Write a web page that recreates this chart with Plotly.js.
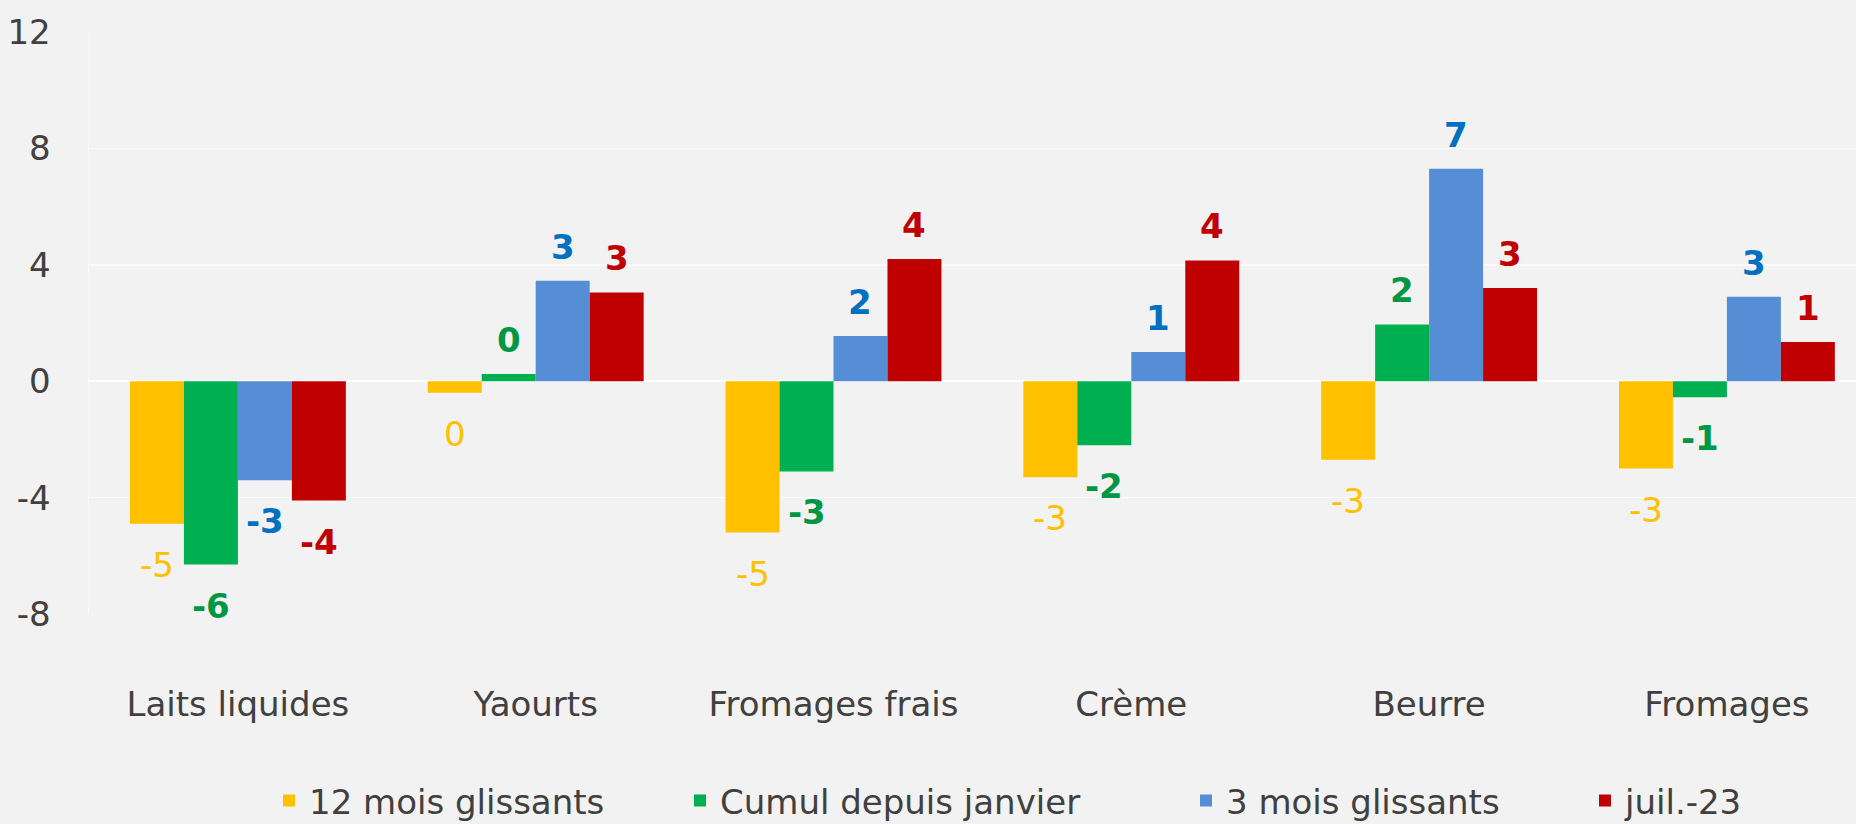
<!DOCTYPE html>
<html>
<head>
<meta charset="utf-8">
<script src="https://cdn.plot.ly/plotly-3.0.1.min.js"></script>
<style>
html,body{margin:0;padding:0;background:#F2F2F2;overflow:hidden;}
#chart{width:1856px;height:824px;}
</style>
</head>
<body>
<div id="chart"></div>
<script>
// ---- data ----
const categories = ["Laits liquides", "Yaourts", "Fromages frais", "Crème", "Beurre", "Fromages"];
const seriesNames = ["12 mois glissants", "Cumul depuis janvier", "3 mois glissants", "juil.-23"];
const v12mois = [-4.9, -0.4, -5.2, -3.3, -2.7, -3.0];
const vCumul = [-6.3, 0.25, -3.1, -2.2, 1.95, -0.55];
const v3mois = [-3.4, 3.45, 1.55, 1.0, 7.3, 2.9];
const vJuil = [-4.1, 3.05, 4.2, 4.15, 3.2, 1.35];
const yTicks = [-8, -4, 0, 4, 8, 12];

// ---- styles ----
const barColors = ["#FFC000", "#00B050", "#558ED5", "#C00000"];
const labelColors = ["#FFC000", "#009644", "#0070C0", "#C00000"];
const labelBold = [false, true, true, true];
const FONT = "DejaVu Sans, Arial, sans-serif";
const TXT = "#404040";
const bargap = 0.275;

const allSeries = [v12mois, vCumul, v3mois, vJuil];
const legendIds = ["legend", "legend2", "legend3", "legend4"];

const traces = allSeries.map((vals, i) => ({
  type: "bar",
  name: seriesNames[i],
  x: categories,
  y: vals,
  marker: {color: barColors[i]},
  legend: legendIds[i],
  hoverinfo: "x+y+name"
}));

const bw = (1 - bargap) / 4;
const annotations = [];
allSeries.forEach((vals, i) => {
  vals.forEach((v, j) => {
    const r = Math.round(v);
    const txt = String(r === 0 ? 0 : r);
    annotations.push({
      x: j + (i - 1.5) * bw,
      y: v,
      xref: "x", yref: "y",
      text: labelBold[i] ? "<b>" + txt + "</b>" : txt,
      showarrow: false,
      yanchor: v >= 0 ? "bottom" : "top",
      yshift: v >= 0 ? 12 : -19,
      font: {family: FONT, size: 34, color: labelColors[i]}
    });
  });
});

function legendBox(xPaper) {
  return {
    orientation: "h",
    x: xPaper, xanchor: "left",
    y: -0.321, yanchor: "middle",
    bgcolor: "rgba(0,0,0,0)",
    font: {family: FONT, size: 34, color: TXT},
    itemclick: false, itemdoubleclick: false
  };
}
const plotL = 89, plotW = 1856 - 89;
const legendStarts = [269, 680, 1186, 1585];

const layout = {
  width: 1856,
  height: 824,
  paper_bgcolor: "#F2F2F2",
  plot_bgcolor: "#F2F2F2",
  margin: {l: plotL, r: 0, t: 32, b: 210, pad: 0, autoexpand: false},
  barmode: "group",
  bargap: bargap,
  bargroupgap: 0,
  font: {family: FONT, color: TXT},
  xaxis: {
    type: "category",
    range: [-0.5, -0.5 + plotW / 297.8],
    showgrid: false,
    zeroline: false,
    showline: false,
    ticks: "",
    tickfont: {family: FONT, size: 34, color: TXT},
    ticklabelstandoff: 67,
    automargin: false,
    fixedrange: true
  },
  yaxis: {
    range: [-8, 12],
    tickvals: yTicks,
    ticktext: yTicks.map(String),
    showgrid: true,
    gridcolor: "#FAFAFA",
    gridwidth: 1.5,
    zeroline: true,
    zerolinecolor: "#FFFFFF",
    zerolinewidth: 2,
    showline: true,
    linecolor: "#F9F9F9",
    linewidth: 1.5,
    ticks: "",
    tickfont: {family: FONT, size: 34, color: TXT},
    ticklabelstandoff: 30,
    automargin: false,
    fixedrange: true
  },
  showlegend: true,
  annotations: annotations
};
legendIds.forEach((id, i) => {
  layout[id] = legendBox((legendStarts[i] - plotL) / plotW);
});

Plotly.newPlot("chart", traces, layout, {displayModeBar: false, staticPlot: true});
</script>
</body>
</html>
